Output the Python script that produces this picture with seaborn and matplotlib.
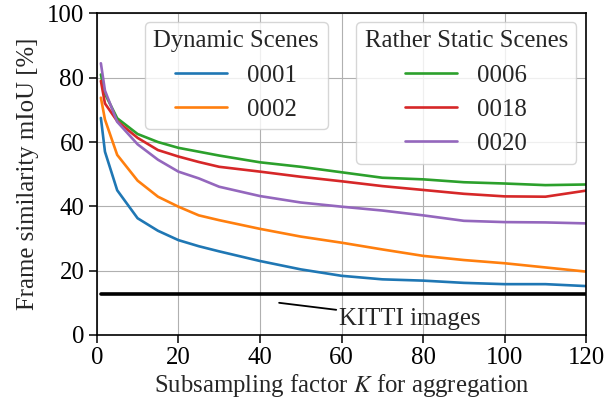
import numpy as np
import pandas as pd
import matplotlib
matplotlib.use('Agg')
import matplotlib.pyplot as plt
import seaborn as sns

# Subsampling factors
K = [1, 2, 5, 10, 15, 20, 25, 30, 40, 50, 60, 70, 80, 90, 100, 110, 120]

# Dynamic scenes
seq_0001 = [67.5, 57, 45, 36.3, 32.4, 29.5, 27.6, 26.0, 23.0, 20.4, 18.4, 17.3, 16.9, 16.2, 15.8, 15.8, 15.2]
seq_0002 = [73.8, 67, 56, 48, 43, 39.9, 37.2, 35.7, 33.0, 30.6, 28.7, 26.6, 24.6, 23.3, 22.3, 21.0, 19.7]

# Rather static scenes
seq_0006 = [81, 75, 67.4, 62.5, 60, 58.2, 57, 55.8, 53.7, 52.3, 50.6, 48.9, 48.4, 47.5, 47.1, 46.6, 46.8]
seq_0018 = [79, 72, 66.5, 61.3, 57.5, 55.5, 53.8, 52.3, 50.8, 49.2, 47.8, 46.3, 45.1, 43.9, 43.1, 43.0, 44.9]
seq_0020 = [84.5, 76, 66.3, 59.3, 54.5, 50.8, 48.7, 46.1, 43.2, 41.2, 39.9, 38.7, 37.2, 35.5, 35.1, 35.0, 34.7]

kitti_level = 12.8

dynamic = {'0001': seq_0001, '0002': seq_0002}
static = {'0006': seq_0006, '0018': seq_0018, '0020': seq_0020}
colors = {'0001': '#1f77b4', '0002': '#ff7f0e', '0006': '#2ca02c',
          '0018': '#d62728', '0020': '#9467bd'}

sns.set_style('whitegrid', {'axes.edgecolor': 'black', 'grid.color': '#b0b0b0'})
plt.rcParams['font.family'] = ['Liberation Serif', 'DejaVu Serif']
plt.rcParams['mathtext.fontset'] = 'stix'

FS = 17.8

fig = plt.figure(figsize=(6.05, 4.07), dpi=100)
ax = fig.add_axes([0.160, 0.177, 0.809, 0.790])

def draw(group):
    handles = []
    for name, vals in group.items():
        df = pd.DataFrame({'K': K, 'mIoU': vals})
        sns.lineplot(data=df, x='K', y='mIoU', ax=ax, color=colors[name],
                     linewidth=1.9, label=name, legend=False)
        handles.append(ax.lines[-1])
    return handles

h_dyn = draw(dynamic)
h_sta = draw(static)

ax.plot([K[0], K[-1]], [kitti_level, kitti_level], color='black', linewidth=2.6)
ax.annotate('KITTI images', xy=(44.7, 10.0), xytext=(59.5, 5.0),
            fontsize=FS, va='center', ha='left',
            arrowprops=dict(arrowstyle='-', color='black', linewidth=1.3,
                            shrinkA=0, shrinkB=0))

ax.set_xlim(0, 120)
ax.set_ylim(0, 100)
ax.set_xticks(range(0, 121, 20))
ax.set_yticks(range(0, 101, 20))
ax.tick_params(axis='both', labelsize=FS, length=6, width=1.1, colors='black',
               direction='out', bottom=True, left=True, pad=3)
ax.set_xlabel('Subsampling factor $K$ for aggregation', fontsize=FS, labelpad=2)
ax.set_ylabel('Frame similarity mIoU [%]', fontsize=FS, labelpad=6)
for s in ax.spines.values():
    s.set_linewidth(1.2)

leg_kw = dict(fontsize=FS, title_fontsize=FS, framealpha=0.8, edgecolor='#cccccc',
              handlelength=2.1, borderpad=0.35, labelspacing=0.48, fancybox=True,
              borderaxespad=0)
leg1 = ax.legend(handles=h_dyn, labels=list(dynamic.keys()), title='Dynamic Scenes',
                 loc='upper left', bbox_to_anchor=(0.098, 0.974), **leg_kw)
ax.add_artist(leg1)
ax.legend(handles=h_sta, labels=list(static.keys()), title='Rather Static Scenes',
          loc='upper right', bbox_to_anchor=(0.98, 0.974), **leg_kw)

fig.savefig('out.png', dpi=100)
